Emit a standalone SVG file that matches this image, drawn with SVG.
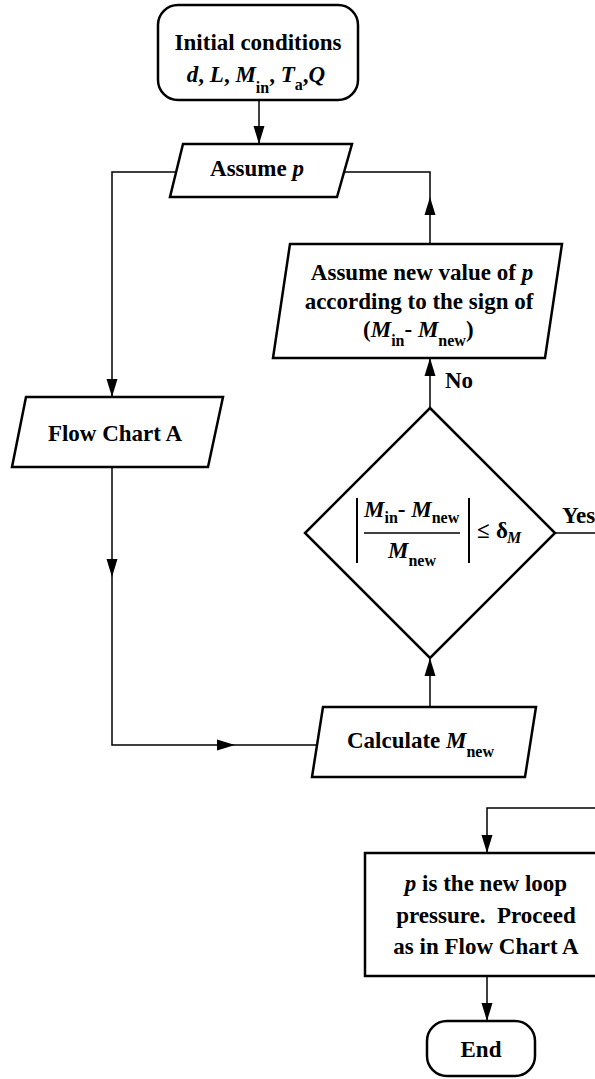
<svg xmlns="http://www.w3.org/2000/svg" width="595" height="1079" viewBox="0 0 595 1079">
<defs>
<style>
.shape{fill:#fff;stroke:#000;stroke-width:2.5;stroke-linejoin:miter}
.conn{fill:none;stroke:#000;stroke-width:1.5}
.bar{fill:none;stroke:#000;stroke-width:2}
text{font-family:"Liberation Serif","Times New Roman",serif;font-weight:bold;font-size:23px;fill:#000}
.c{text-anchor:middle}
.i{font-style:italic}
.s{font-size:16px}
</style>
<marker id="arr" markerUnits="userSpaceOnUse" markerWidth="18" markerHeight="12" refX="18" refY="6" orient="auto">
<path d="M0 0.5 L18 6 L0 11.5 z" fill="#000"/>
</marker>
</defs>
<rect width="595" height="1079" fill="#fff"/>

<g id="connectors">
<path class="conn" d="M259 100 V144" marker-end="url(#arr)"/>
<path class="conn" d="M176 172 H112 V397" marker-end="url(#arr)"/>
<path class="conn" d="M112 467 V577" marker-end="url(#arr)"/>
<path class="conn" d="M112 577 V745 H235" marker-end="url(#arr)"/>
<path class="conn" d="M235 745 H317"/>
<path class="conn" d="M430 707 V658" marker-end="url(#arr)"/>
<path class="conn" d="M430 408 V358" marker-end="url(#arr)"/>
<path class="conn" d="M430 244 V197" marker-end="url(#arr)"/>
<path class="conn" d="M430 197 V172 H344"/>
<path class="conn" d="M555 533 H595"/>
<path class="conn" d="M595 808 H487 V853" marker-end="url(#arr)"/>
<path class="conn" d="M487 976 V1021" marker-end="url(#arr)"/>
<text x="445" y="388">No</text>
<text x="562" y="523">Yes</text>
</g>

<g id="initial">
<rect class="shape" x="158" y="5" width="200" height="95" rx="20" ry="20"/>
<text class="c" x="258" y="50">Initial conditions</text>
<text class="c" x="256" y="82"><tspan class="i">d</tspan>, <tspan class="i">L</tspan>, <tspan class="i">M</tspan><tspan class="s" dy="11">in</tspan><tspan dy="-11">, </tspan><tspan class="i">T</tspan><tspan class="s" dy="8">a</tspan><tspan dy="-8">,</tspan><tspan class="i">Q</tspan></text>
</g>

<g id="assume-p">
<polygon class="shape" points="183,144 352,144 337,197 170,197"/>
<text class="c" x="257" y="176">Assume <tspan class="i">p</tspan></text>
</g>

<g id="assume-new">
<polygon class="shape" points="290,244 562,244 545,358 273,358"/>
<text class="c" x="422" y="280">Assume new value of <tspan class="i">p</tspan></text>
<text class="c" x="419" y="309">according to the sign of</text>
<text x="363" y="337">(<tspan class="i">M</tspan><tspan class="s" dy="9">in</tspan><tspan dy="-9">- </tspan><tspan class="i">M</tspan><tspan class="s" dy="9">new</tspan><tspan dy="-9">)</tspan></text>
</g>

<g id="flow-chart-a">
<polygon class="shape" points="26,397 223,397 208,467 12,467"/>
<text class="c" x="115" y="441">Flow Chart A</text>
</g>

<g id="decision">
<polygon class="shape" points="430,408 555,533 430,658 305,533"/>
<line class="bar" x1="357" y1="498" x2="357" y2="563"/>
<line class="bar" x1="469" y1="498" x2="469" y2="563"/>
<line class="conn" x1="364" y1="533" x2="460" y2="533"/>
<text x="364" y="517"><tspan class="i">M</tspan><tspan class="s" dy="6">in</tspan><tspan dy="-6">- </tspan><tspan class="i">M</tspan><tspan class="s" dy="6">new</tspan></text>
<text x="388" y="558"><tspan class="i">M</tspan><tspan class="s" dy="8">new</tspan></text>
<text x="477" y="538">≤<tspan x="496">δ</tspan><tspan class="i s" x="507" dy="5">M</tspan></text>
</g>

<g id="calculate">
<polygon class="shape" points="323,707 536,707 525,777 312,777"/>
<text x="347" y="748">Calculate <tspan class="i">M</tspan><tspan class="s" dy="9">new</tspan></text>
</g>

<g id="result">
<rect class="shape" x="365" y="853" width="240" height="123"/>
<text class="c" x="486" y="891"><tspan class="i">p</tspan> is the new loop</text>
<text class="c" x="486" y="923">pressure.&#160; Proceed</text>
<text class="c" x="486" y="954">as in Flow Chart A</text>
</g>

<g id="end">
<rect class="shape" x="427" y="1021" width="108" height="55" rx="20" ry="20"/>
<text class="c" x="481" y="1057">End</text>
</g>
</svg>
